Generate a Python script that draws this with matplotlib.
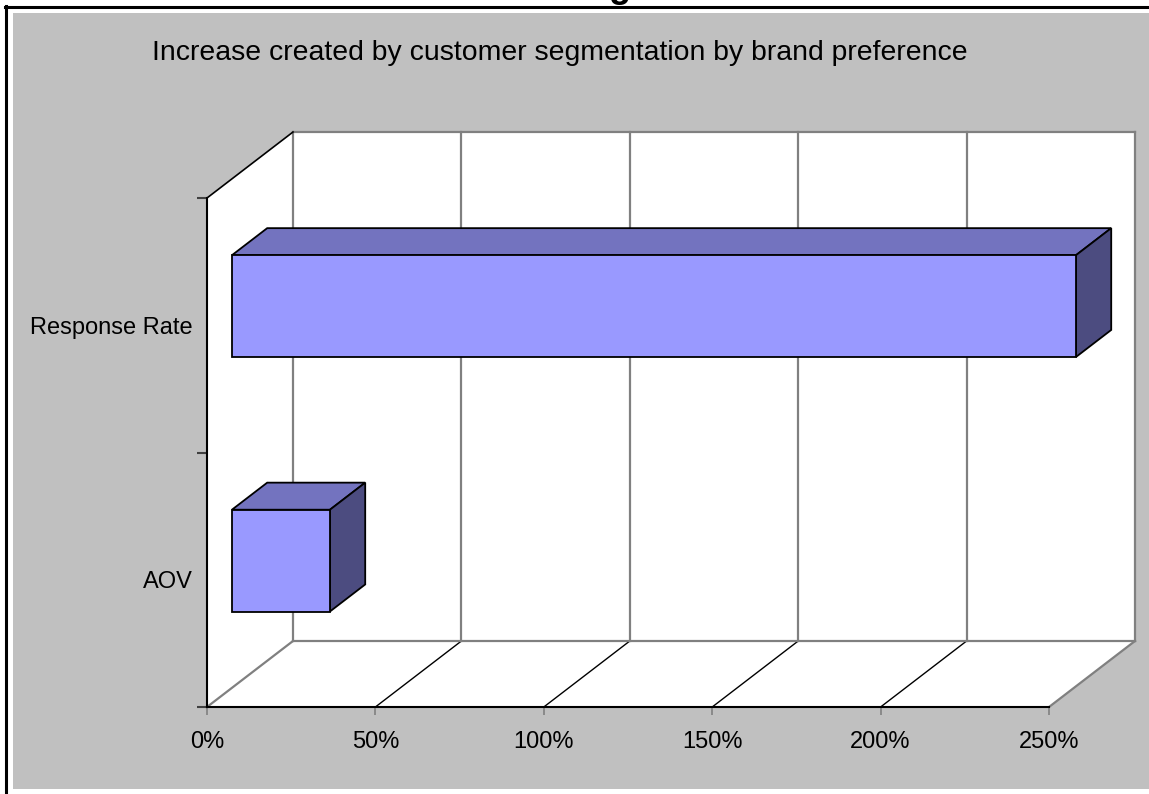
import matplotlib.pyplot as plt
from matplotlib.patches import Polygon, Rectangle
from matplotlib.lines import Line2D

plt.rcParams['font.family'] = ['Liberation Sans', 'DejaVu Sans']

# data
categories = ["AOV", "Response Rate"]
increase_pct = [29.1, 250.6]
x_ticks = [0, 50, 100, 150, 200, 250]
x_tick_labels = ["0%", "50%", "100%", "150%", "200%", "250%"]
title = "Increase created by customer segmentation by brand preference"

W, H = 1149, 794
fig = plt.figure(figsize=(W / 100, H / 100), dpi=100)
fig.patch.set_facecolor("white")

# outer frame + gray chart area
fig.patches.append(Rectangle((13 / W, 1 - 789 / H), (W - 13) / W, (789 - 13) / H,
                             transform=fig.transFigure, facecolor="#c0c0c0", edgecolor="none", zorder=-5))
fig.lines.append(Line2D([6 / W, 6 / W], [0, 1 - 6 / H], transform=fig.transFigure, color="black", lw=2.2))
fig.lines.append(Line2D([5 / W, 1], [1 - 6.5 / H, 1 - 6.5 / H], transform=fig.transFigure, color="black", lw=2.2))
# descender of page heading above the frame
fig.text(620 / W, 1 + 3 / H, "g", ha="center", va="baseline", fontsize=26, fontweight="bold")

# front plane of the 3d plot
left, right, top, bottom = 207, 1049, 198, 707
ax = fig.add_axes([left / W, 1 - bottom / H, (right - left) / W, (bottom - top) / H])
ax.set_facecolor("none")
ax.set_zorder(1)
ax.set_xlim(0, 250)
ax.set_ylim(0, 2)

# depth vector in data units
dx = 86 / ((right - left) / 250)
dy = 66 / ((bottom - top) / 2)
xmax = 250

def shift(pts, f):
    return [(x + f * dx, y + f * dy) for x, y in pts]

wall_kw = dict(facecolor="white", edgecolor="none", clip_on=False, zorder=0.5)
# back wall, left wall, floor
ax.add_patch(Polygon(shift([(0, 0), (xmax, 0), (xmax, 2), (0, 2)], 1), **wall_kw))
ax.add_patch(Polygon([(0, 0), (dx, dy), (dx, 2 + dy), (0, 2)], **wall_kw))
ax.add_patch(Polygon([(0, 0), (xmax, 0), (xmax + dx, dy), (dx, dy)], **wall_kw))

gray = "#808080"
line_kw = dict(clip_on=False, zorder=0.8)
for xv in x_ticks:
    # vertical grid on back wall
    ax.plot([xv + dx, xv + dx], [dy, 2 + dy], color=gray, lw=1.6, **line_kw)
    # floor diagonal
    c = gray if xv in (0, xmax) else "black"
    ax.plot([xv, xv + dx], [0, dy], color=c, lw=1.0 if c == "black" else 1.6, **line_kw)
ax.plot([dx, xmax + dx], [dy, dy], color=gray, lw=1.6, **line_kw)
ax.plot([dx, xmax + dx], [2 + dy, 2 + dy], color=gray, lw=1.6, **line_kw)
ax.plot([0, dx], [2, 2 + dy], color="black", lw=1.2, **line_kw)

# 3d bars
f0, f1 = 0.29, 0.70
half = 0.2
front_c, top_c, side_c = "#9999ff", "#7373bf", "#4c4c80"
for i, v in enumerate(increase_pct):
    c = i + 0.5
    front = [(0, c - half), (v, c - half), (v, c + half), (0, c + half)]
    topf = [(0, c + half), (v, c + half)]
    sidef = [(v, c - half), (v, c + half)]
    bar_kw = dict(edgecolor="black", lw=1.3, clip_on=False, zorder=1.5)
    ax.add_patch(Polygon(shift(topf, f0) + shift(topf[::-1], f1), facecolor=top_c, **bar_kw))
    ax.add_patch(Polygon(shift(sidef, f0) + shift(sidef[::-1], f1), facecolor=side_c, **bar_kw))
    ax.add_patch(Polygon(shift(front, f0), facecolor=front_c, **bar_kw))

# axes
for s in ("top", "right"):
    ax.spines[s].set_visible(False)
for s in ("bottom", "left"):
    ax.spines[s].set_linewidth(1.5)
    ax.spines[s].set_zorder(3)
ax.set_xticks(x_ticks)
ax.set_xticklabels(x_tick_labels, fontsize=17)
ax.tick_params(axis="x", direction="out", length=6, width=1.2, color=gray, pad=11)
ax.set_yticks([0, 1, 2])
ax.set_yticklabels([])
ax.tick_params(axis="y", which="major", direction="out", length=7, width=1.5, color="#404040")
ax.set_yticks([0.5, 1.5], minor=True)
ax.set_yticklabels(categories, minor=True, fontsize=17)
ax.tick_params(axis="y", which="minor", length=0, pad=10)

fig.text(560 / W, 1 - 53 / H, title, ha="center", va="center", fontsize=20.4)

fig.savefig("out.png", dpi=100)
